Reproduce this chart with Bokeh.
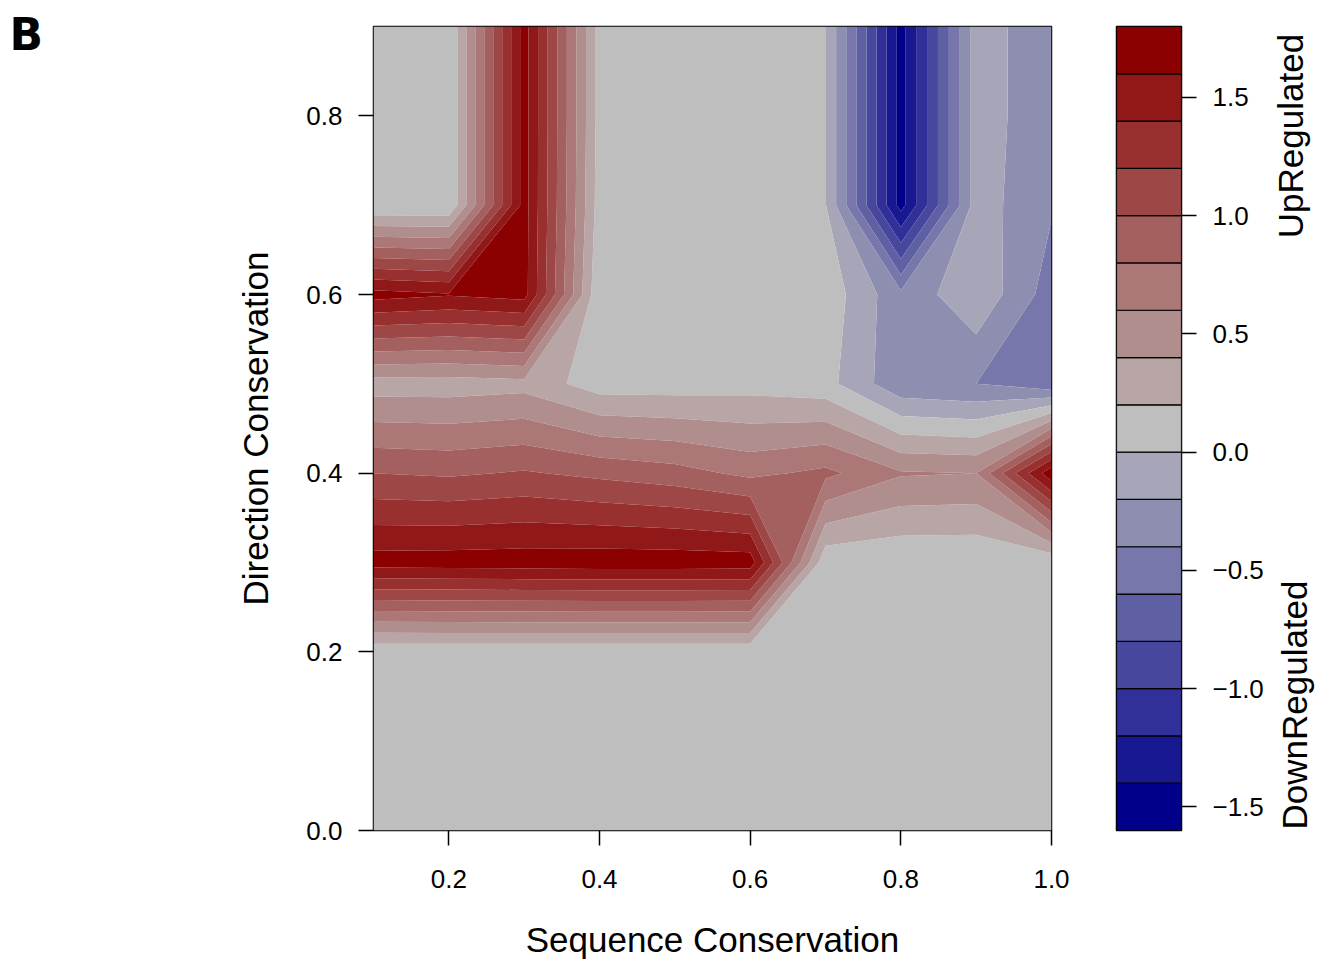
import numpy as np
from bokeh.plotting import figure
from bokeh.layouts import row
from bokeh.models import Range1d, FixedTicker, PrintfTickFormatter, CustomJSTickFormatter
from bokeh.core.properties import value
from bokeh.embed import file_html
from bokeh.resources import INLINE

# ---- data ----
seq_conservation = [0.1, 0.2, 0.3, 0.4, 0.5, 0.6, 0.7, 0.8, 0.9, 1.0]
dir_conservation = [0.0, 0.1, 0.2, 0.3, 0.4, 0.5, 0.6, 0.7, 0.8, 0.9]

# fold change per direction-conservation row (columns follow seq_conservation)
fc_dir_00 = [0.06, 0.06, 0.06, 0.06, 0.06, 0.06, 0.06, 0.06, 0.06, 0.06]
fc_dir_01 = [0.07, 0.07, 0.07, 0.07, 0.07, 0.07, 0.07, 0.07, 0.07, 0.07]
fc_dir_02 = [0.05, 0.05, 0.05, 0.05, 0.05, 0.05, 0.06, 0.07, 0.07, 0.07]
fc_dir_03 = [1.69, 1.70, 1.71, 1.72, 1.72, 1.71, 0.05, 0.02, 0.02, 0.02]
fc_dir_04 = [1.00, 0.97, 1.02, 0.95, 0.88, 0.75, 0.85, 0.62, 0.60, 1.75]
fc_dir_05 = [0.30, 0.30, 0.33, 0.10, 0.10, 0.12, 0.07, -0.35, -0.40, -0.55]
fc_dir_06 = [1.68, 1.62, 1.68, 0.02, 0.05, 0.05, 0.13, -0.35, -0.04, -0.50]
fc_dir_07 = [0.01, 0.01, 1.69, 0.10, 0.08, 0.08, 0.01, -1.48, -0.10, -0.38]
fc_dir_08 = [0.05, 0.01, 1.69, 0.12, 0.08, 0.08, 0.01, -1.48, -0.10, -0.34]
fc_dir_09 = [0.05, 0.01, 1.69, 0.12, 0.08, 0.08, 0.01, -1.48, -0.10, -0.34]

levels = [-1.6, -1.4, -1.2, -1.0, -0.8, -0.6, -0.4, -0.2, 0.0,
          0.2, 0.4, 0.6, 0.8, 1.0, 1.2, 1.4, 1.6, 1.8]
x_ticks = [0.2, 0.4, 0.6, 0.8, 1.0]
y_ticks = [0.0, 0.2, 0.4, 0.6, 0.8]
key_ticks = [-1.5, -1.0, -0.5, 0.0, 0.5, 1.0, 1.5]

panel_letter = "B"
x_title = "Sequence Conservation"
y_title = "Direction Conservation"
key_titles = ["UpRegulated", "DownRegulated"]

palette = ["#00008B", "#181891", "#303098", "#47479E", "#5F5FA4", "#7777AB",
           "#8E8EB1", "#A6A6B8", "#BEBEBE", "#B8A6A6", "#B18E8E", "#AB7777",
           "#A45F5F", "#9E4747", "#983030", "#911818", "#8B0000"]

z = np.array([fc_dir_00, fc_dir_01, fc_dir_02, fc_dir_03, fc_dir_04,
              fc_dir_05, fc_dir_06, fc_dir_07, fc_dir_08, fc_dir_09])

FONT = "Liberation Sans"
H = 962


def no_align(f):
    if "frame_align" in f.properties():
        f.frame_align = False


def blank(width, height):
    f = figure(width=width, height=height, x_range=Range1d(0, width), y_range=Range1d(0, height),
               output_backend="svg", toolbar_location=None,
               min_border_left=0, min_border_right=0, min_border_top=0, min_border_bottom=0)
    f.axis.visible = False
    f.grid.visible = False
    f.outline_line_color = None
    no_align(f)
    return f


def style_axis(ax):
    ax.axis_line_color = None
    ax.major_tick_out = 15
    ax.major_tick_in = 0
    ax.minor_tick_line_color = None
    ax.major_tick_line_color = "black"
    ax.major_tick_line_width = 1.5
    ax.major_label_text_font = FONT
    ax.major_label_text_font_size = "26px"
    ax.major_label_text_color = "black"
    ax.axis_label_text_font = FONT
    ax.axis_label_text_font_size = "35px"
    ax.axis_label_text_font_style = "normal"
    ax.axis_label_text_color = "black"


# ---- left strip with the panel letter ----
left = blank(60, H)
left.text(x=[9], y=[H - 34], text=[panel_letter], text_font=value("DejaVu Sans"),
          text_font_style="bold", text_font_size="44px", text_align="left",
          text_baseline="alphabetic", text_color="black")

# ---- main contour panel ----
p = figure(width=1030, height=H,
           x_range=Range1d(0.1, 1.0), y_range=Range1d(0.0, 0.9),
           output_backend="svg", toolbar_location=None,
           min_border_left=313, min_border_right=39,
           min_border_top=26, min_border_bottom=132)
p.contour(np.array(seq_conservation), np.array(dir_conservation), z, levels,
          fill_color=palette)
p.grid.visible = False
p.outline_line_color = "black"
p.outline_line_width = 1.5

for ax in (p.xaxis[0], p.yaxis[0]):
    style_axis(ax)
    ax.formatter = PrintfTickFormatter(format="%.1f")
p.xaxis.ticker = FixedTicker(ticks=x_ticks)
p.yaxis.ticker = FixedTicker(ticks=y_ticks)
p.xaxis.axis_label = x_title
p.yaxis.axis_label = y_title
p.xaxis.major_label_standoff = 24
p.xaxis.axis_label_standoff = 29
p.yaxis.major_label_standoff = 16
p.yaxis.axis_label_standoff = 28

# ---- colour key ----
cb = figure(width=180, height=H,
            x_range=Range1d(0, 1), y_range=Range1d(levels[0], levels[-1]),
            output_backend="svg", toolbar_location=None,
            min_border_left=26, min_border_right=89,
            min_border_top=26, min_border_bottom=132,
            y_axis_location="right")
cb.quad(left=0, right=1, bottom=levels[:-1], top=levels[1:],
        fill_color=palette, line_color="black", line_width=1.2)
cb.xaxis.visible = False
cb.grid.visible = False
cb.outline_line_color = "black"
cb.outline_line_width = 1.5
ya = cb.yaxis[0]
style_axis(ya)
ya.ticker = FixedTicker(ticks=key_ticks)
ya.formatter = CustomJSTickFormatter(code="return tick.toFixed(1).replace('-', '\u2212');")
ya.major_label_standoff = 16

# ---- right strip with the key titles ----
right = blank(48, H)
right.text(x=[20, 24], y=[H - 135.5, H - 704.5], text=key_titles,
           angle=np.pi / 2, text_align="center", text_baseline="alphabetic",
           text_font=value(FONT), text_font_size="35px", text_color="black")

layout = row(left, p, cb, right)
open("out.html", "w").write(file_html(layout, INLINE))
